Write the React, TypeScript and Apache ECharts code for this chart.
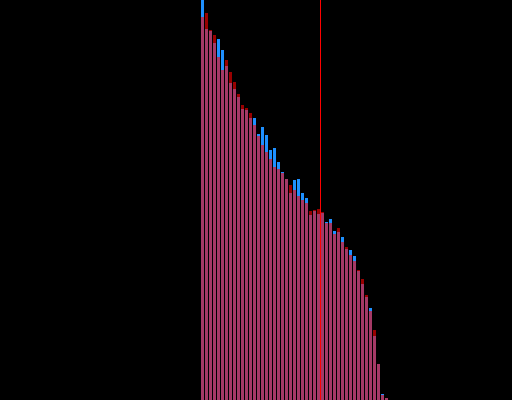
import React, { useEffect, useRef } from "react";
import * as echarts from "echarts";

const blueValues = [400,371,369,357,361,350,334,317,311,303,291,290,282,282,266,273,265,250,252,238,228,221,207,220,221,207,202,185,189,186,187,178,181,169,168,163,151,150,144,129,116,103,92,64,36,6,2];
const redValues = [383,387,370,365,343,330,340,328,318,306,295,292,287,275,264,255,248,241,233,231,227,221,215,210,204,200,197,189,190,191,188,177,177,166,172,158,153,145,139,130,121,105,89,70,36,5,2];
const markerPosition = 29.5;

export default function App() {
  const ref = useRef<HTMLDivElement>(null);
  useEffect(() => {
    document.body.style.margin = "0";
    document.body.style.background = "#000";
    const chart = echarts.init(ref.current!, null, { renderer: "svg" });
    chart.setOption({
      animation: false,
      backgroundColor: "#000",
      grid: { left: 200.5, width: 188, top: 0, bottom: 0 },
      xAxis: {
        type: "value",
        min: -0.5,
        max: blueValues.length - 0.5,
        show: false,
      },
      yAxis: { type: "value", min: 0, max: 400, show: false },
      series: [
        {
          type: "bar",
          barWidth: 3,
          barGap: "-100%",
          itemStyle: { color: "#1e90ff" },
          data: blueValues.map((v, i) => [i, v]),
        },
        {
          type: "bar",
          barWidth: 3,
          barGap: "-100%",
          itemStyle: { color: "rgba(255,0,0,0.6)" },
          data: redValues.map((v, i) => [i, v]),
          markLine: {
            silent: true,
            symbol: "none",
            label: { show: false },
            lineStyle: { color: "#ff0000", width: 1, type: "solid" },
            data: [{ xAxis: markerPosition }],
          },
        },
      ],
    });
    return () => chart.dispose();
  }, []);
  return (
    <div
      ref={ref}
      style={{ position: "absolute", left: 0, top: 0, width: 512, height: 400 }}
    />
  );
}
